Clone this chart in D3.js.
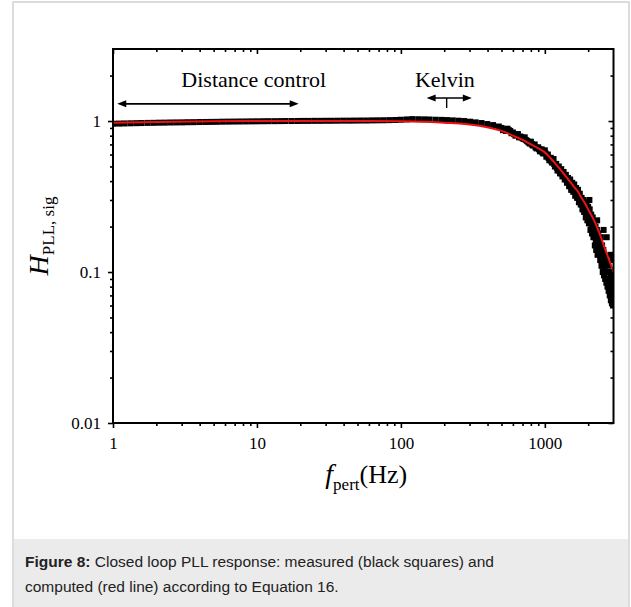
<!DOCTYPE html>
<html>
<head>
<meta charset="utf-8">
<script src="https://cdn.jsdelivr.net/npm/d3@7"></script>
<style>
  html, body { margin: 0; padding: 0; background: #fff; }
  svg { display: block; }
</style>
</head>
<body>
<svg id="fig" width="631" height="607"></svg>
<script>
// Measured closed-loop PLL response: perturbation frequency (Hz) and |H|
const measFreq = [
  1, 1.1, 1.2, 1.32, 1.45, 1.58, 1.74, 1.91, 2.09, 2.29,
  2.51, 2.75, 3.02, 3.31, 3.63, 3.98, 4.37, 4.79, 5.25, 5.75,
  6.31, 6.92, 7.59, 8.32, 9.12, 10, 11, 12, 13.2, 14.5,
  15.8, 17.4, 19.1, 20.9, 22.9, 25.1, 27.5, 30.2, 33.1, 36.3,
  39.8, 43.7, 47.9, 52.5, 57.5, 63.1, 69.2, 75.9, 83.2, 91.2,
  100, 110, 120, 132, 145, 158, 174, 191, 209, 229,
  251, 275, 302, 331, 363, 398, 437, 479,
  500, 525, 550, 575, 600, 625, 650, 675, 700, 725,
  750, 775, 800, 825, 850, 875, 900, 925, 950, 975,
  1000, 1025, 1050, 1075, 1100, 1125, 1150, 1175, 1200, 1225,
  1250, 1275, 1300, 1325, 1350, 1375, 1400, 1425, 1450, 1475,
  1500, 1525, 1550, 1575, 1600, 1625, 1650, 1675, 1700, 1725,
  1750, 1775, 1800, 1825, 1850, 1875, 1900, 1925, 1950, 1975,
  2000, 2025, 2040, 2050, 2075, 2100, 2125, 2150, 2175, 2200,
  2225, 2250, 2275, 2300, 2310, 2325, 2350, 2375, 2400, 2425,
  2450, 2475, 2500, 2525, 2550, 2560, 2575, 2600, 2625, 2650,
  2675, 2690, 2700, 2725, 2750, 2775, 2800, 2825, 2850, 2875,
  2880, 2900, 2925, 2950, 2960, 2975, 2990,
  512, 537, 562, 587, 612, 637, 662, 687, 712, 737,
  762, 787, 812, 837, 862, 887, 912, 937, 962, 987,
  1012, 1037, 1062, 1087, 1112, 1137, 1162, 1187, 1212, 1237,
  1262, 1287, 1312, 1337, 1362, 1387, 1412, 1437, 1462, 1487,
  1512, 1537, 1562, 1587, 1612, 1637, 1662, 1687, 1712, 1737,
  1762, 1787, 1812, 1837, 1862, 1887, 1912, 1937, 1962, 1987,
  2012, 2037, 2062, 2087, 2112, 2137, 2162, 2187, 2212, 2237,
  2262, 2287, 2312, 2337, 2362, 2387, 2412, 2437, 2462, 2487,
  2512, 2537, 2562, 2587, 2612, 2637, 2662, 2687, 2712, 2737,
  2762, 2787, 2812, 2837, 2862, 2887, 2912, 2937, 2962, 2987
];
const measGain = [
  0.960, 0.962, 0.964, 0.966, 0.968, 0.970, 0.972, 0.973, 0.975, 0.976,
  0.978, 0.979, 0.980, 0.982, 0.983, 0.985, 0.986, 0.987, 0.988, 0.990,
  0.991, 0.992, 0.993, 0.994, 0.995, 0.996, 0.997, 0.998, 0.998, 0.999,
  1.000, 1.000, 1.001, 1.002, 1.002, 1.003, 1.003, 1.004, 1.004, 1.005,
  1.006, 1.006, 1.007, 1.008, 1.008, 1.010, 1.011, 1.012, 1.014, 1.016,
  1.020, 1.025, 1.030, 1.028, 1.026, 1.024, 1.020, 1.018, 1.015, 1.010,
  1.005, 1.000, 0.990, 0.980, 0.970, 0.955, 0.940, 0.920,
  0.90, 0.88, 0.89, 0.86, 0.84, 0.80, 0.82, 0.79, 0.77, 0.78,
  0.74, 0.72, 0.73, 0.69, 0.70, 0.66, 0.67, 0.63, 0.65, 0.61,
  0.64, 0.58, 0.60, 0.55, 0.57, 0.53, 0.56, 0.50, 0.52, 0.47,
  0.50, 0.45, 0.48, 0.43, 0.46, 0.41, 0.44, 0.39, 0.42, 0.37,
  0.41, 0.35, 0.39, 0.34, 0.38, 0.32, 0.36, 0.31, 0.35, 0.29,
  0.33, 0.28, 0.31, 0.26, 0.30, 0.25, 0.29, 0.23, 0.28, 0.22,
  0.27, 0.21, 0.30, 0.26, 0.19, 0.24, 0.18, 0.23, 0.17, 0.21,
  0.15, 0.20, 0.14, 0.19, 0.22, 0.13, 0.18, 0.15, 0.16, 0.12,
  0.17, 0.11, 0.15, 0.10, 0.14, 0.19, 0.095, 0.13, 0.09, 0.12,
  0.085, 0.17, 0.115, 0.08, 0.11, 0.075, 0.10, 0.07, 0.095, 0.065,
  0.13, 0.09, 0.062, 0.085, 0.12, 0.06, 0.08,
  0.87, 0.86, 0.87, 0.83, 0.82, 0.81, 0.78, 0.78, 0.76, 0.75,
  0.73, 0.71, 0.70, 0.69, 0.67, 0.66, 0.65, 0.64, 0.62, 0.62,
  0.61, 0.59, 0.57, 0.57, 0.54, 0.55, 0.52, 0.51, 0.49, 0.49,
  0.47, 0.46, 0.45, 0.45, 0.43, 0.42, 0.41, 0.41, 0.39, 0.38,
  0.38, 0.36, 0.36, 0.36, 0.34, 0.34, 0.33, 0.33, 0.31, 0.31,
  0.30, 0.30, 0.28, 0.28, 0.27, 0.27, 0.25, 0.25, 0.24, 0.24,
  0.23, 0.22, 0.22, 0.21, 0.20, 0.20, 0.19, 0.18, 0.18, 0.17,
  0.16, 0.16, 0.15, 0.15, 0.14, 0.14, 0.13, 0.14, 0.12, 0.13,
  0.12, 0.11, 0.12, 0.10, 0.11, 0.10, 0.10, 0.09, 0.10, 0.09,
  0.09, 0.085, 0.08, 0.085, 0.075, 0.08, 0.07, 0.075, 0.068, 0.07
];

// Computed response from the loop model
const fitFreq = [1, 2, 5, 10, 20, 50, 100, 200, 350, 500, 600, 700, 800, 900, 1000,
  1100, 1200, 1300, 1400, 1500, 1600, 1700, 1800, 1900, 2000, 2200, 2400, 2600, 2800, 3000];
const fitGain = [0.975, 0.985, 0.995, 1.0, 1.0, 1.0, 0.995, 0.975, 0.93, 0.86, 0.80, 0.75, 0.70, 0.66, 0.62,
  0.565, 0.515, 0.47, 0.43, 0.395, 0.365, 0.34, 0.31, 0.285, 0.26, 0.22, 0.18, 0.145, 0.12, 0.10];

// Axis ticks
const xTicks = [1, 10, 100, 1000];
const xTickLabels = ["1", "10", "100", "1000"];
const xMinor = [2, 3, 4, 5, 6, 7, 8, 9, 20, 30, 40, 50, 60, 70, 80, 90,
  200, 300, 400, 500, 600, 700, 800, 900, 2000];
const yTicks = [0.01, 0.1, 1];
const yTickLabels = ["0.01", "0.1", "1"];
const yMinor = [0.02, 0.03, 0.04, 0.05, 0.06, 0.07, 0.08, 0.09,
  0.2, 0.3, 0.4, 0.5, 0.6, 0.7, 0.8, 0.9, 2];

// Annotations (in data units)
const annoText = ["Distance control", "Kelvin"];
const annoTextF = [9.5, 202];
const annoTextH = 1.68;
const rangeFrom = [1.07, 151];
const rangeTo = [19.5, 311];
const rangeH = [1.3, 1.42];
const kelvinMarkF = 208;
const kelvinMarkH = 1.22;

const captionBold = "Figure 8:";
const captionLine1 = " Closed loop PLL response: measured (black squares) and";
const captionLine2 = "computed (red line) according to Equation 16.";

const svg = d3.select("#fig");
const W = 631, H = 607;
const serif = "'Liberation Serif', 'Times New Roman', Times, serif";
const sans = "'Liberation Sans', Arial, Helvetica, sans-serif";

// page frame and caption band
svg.append("rect").attr("x", 0).attr("y", 0).attr("width", W).attr("height", H).attr("fill", "#fff");
svg.append("rect").attr("x", 14).attr("y", 539).attr("width", W - 16).attr("height", H - 539).attr("fill", "#ebebeb");
svg.append("path")
  .attr("d", `M13,${H + 5} V2 H629 V${H + 5}`)
  .attr("fill", "none").attr("stroke", "#dcdcdc").attr("stroke-width", 2);

const x = d3.scaleLog().domain([1, 3000]).range([113, 613.5]);
const y = d3.scaleLog().domain([0.01, 3]).range([423, 49]);
const [x0, x1] = x.range();
const [y0, y1] = y.range();

svg.append("defs").append("clipPath").attr("id", "plotclip")
  .append("rect").attr("x", x0).attr("y", y1).attr("width", x1 - x0).attr("height", y0 - y1);

// measured squares
const sq = 6;
const meas = measFreq.map((f, i) => ({ f, h: measGain[i] }));
svg.append("g").attr("clip-path", "url(#plotclip)")
  .selectAll("rect").data(meas).join("rect")
  .attr("x", d => x(d.f) - sq / 2)
  .attr("y", d => y(d.h) - sq / 2)
  .attr("width", sq).attr("height", sq)
  .attr("fill", "#000");

// computed curve
const fit = fitFreq.map((f, i) => ({ f, h: fitGain[i] }));
svg.append("g").attr("clip-path", "url(#plotclip)")
  .append("path").datum(fit)
  .attr("d", d3.line().x(d => x(d.f)).y(d => y(d.h)).curve(d3.curveMonotoneX))
  .attr("fill", "none").attr("stroke", "#ee1111").attr("stroke-width", 2);

// axes: outward ticks on bottom/left, inward on top/right
function styleAxis(g) {
  g.select(".domain").remove();
  g.selectAll(".tick line").attr("stroke", "#000").attr("stroke-width", 1.6);
  g.selectAll(".tick text").attr("fill", "#000").style("font-family", serif).style("font-size", "17px");
}
const fmtX = d => xTickLabels[xTicks.indexOf(d)];
const fmtY = d => yTickLabels[yTicks.indexOf(d)];

svg.append("g").attr("transform", `translate(0,${y0})`)
  .call(d3.axisBottom(x).tickValues(xTicks).tickFormat(fmtX).tickSize(5).tickPadding(9)).call(styleAxis);
svg.append("g").attr("transform", `translate(0,${y0})`)
  .call(d3.axisBottom(x).tickValues(xMinor).tickFormat("").tickSize(3)).call(styleAxis);
svg.append("g").attr("transform", `translate(0,${y1})`)
  .call(d3.axisTop(x).tickValues(xTicks).tickFormat("").tickSizeInner(-5).tickSizeOuter(0)).call(styleAxis);
svg.append("g").attr("transform", `translate(0,${y1})`)
  .call(d3.axisTop(x).tickValues(xMinor).tickFormat("").tickSizeInner(-3).tickSizeOuter(0)).call(styleAxis);

svg.append("g").attr("transform", `translate(${x0},0)`)
  .call(d3.axisLeft(y).tickValues(yTicks).tickFormat(fmtY).tickSize(5).tickPadding(7)).call(styleAxis);
svg.append("g").attr("transform", `translate(${x0},0)`)
  .call(d3.axisLeft(y).tickValues(yMinor).tickFormat("").tickSize(3)).call(styleAxis);
svg.append("g").attr("transform", `translate(${x1},0)`)
  .call(d3.axisRight(y).tickValues(yTicks).tickFormat("").tickSizeInner(-5).tickSizeOuter(0)).call(styleAxis);
svg.append("g").attr("transform", `translate(${x1},0)`)
  .call(d3.axisRight(y).tickValues(yMinor).tickFormat("").tickSizeInner(-3).tickSizeOuter(0)).call(styleAxis);

// plot frame
svg.append("rect").attr("x", x0).attr("y", y1).attr("width", x1 - x0).attr("height", y0 - y1)
  .attr("fill", "none").attr("stroke", "#000").attr("stroke-width", 2);

// axis titles
const yt = svg.append("text")
  .attr("transform", `translate(48,${(y0 + y1) / 2}) rotate(-90)`)
  .attr("text-anchor", "middle").attr("fill", "#000").style("font-family", serif);
yt.append("tspan").text("H").style("font-style", "italic").style("font-size", "28px");
yt.append("tspan").text("PLL, sig").style("font-size", "17px").attr("dy", 6);

const xt = svg.append("text")
  .attr("x", (x0 + x1) / 2 + 3).attr("y", 483)
  .attr("text-anchor", "middle").attr("fill", "#000").style("font-family", serif);
xt.append("tspan").text("f").style("font-style", "italic").style("font-size", "28px");
xt.append("tspan").text("pert").style("font-size", "17px").attr("dy", 7);
xt.append("tspan").text("(Hz)").style("font-size", "26px").attr("dy", -7);

// annotations
annoText.forEach((t, i) => {
  svg.append("text").attr("x", x(annoTextF[i])).attr("y", y(annoTextH))
    .attr("text-anchor", "middle").attr("fill", "#000")
    .style("font-family", serif).style("font-size", "22px").text(t);
});

function arrowHead(xTip, yy, dir) {
  const L = 9, Hw = 3.5;
  return `M${xTip},${yy} L${xTip - dir * L},${yy - Hw} L${xTip - dir * L},${yy + Hw} Z`;
}
rangeFrom.forEach((f, i) => {
  const xa = x(f), xb = x(rangeTo[i]), yy = y(rangeH[i]);
  svg.append("line").attr("x1", xa + 4).attr("x2", xb - 4).attr("y1", yy).attr("y2", yy)
    .attr("stroke", "#000").attr("stroke-width", 1.6);
  svg.append("path").attr("d", arrowHead(xa, yy, -1)).attr("fill", "#000");
  svg.append("path").attr("d", arrowHead(xb, yy, 1)).attr("fill", "#000");
});
svg.append("line")
  .attr("x1", x(kelvinMarkF)).attr("x2", x(kelvinMarkF))
  .attr("y1", y(rangeH[1])).attr("y2", y(kelvinMarkH))
  .attr("stroke", "#000").attr("stroke-width", 1.4);

// caption
const cap = svg.append("text").attr("x", 25).attr("y", 567)
  .attr("fill", "#222").style("font-family", sans).style("font-size", "15.5px");
cap.append("tspan").text(captionBold).style("font-weight", "bold");
cap.append("tspan").text(captionLine1);
svg.append("text").attr("x", 25).attr("y", 592)
  .attr("fill", "#222").style("font-family", sans).style("font-size", "15.5px")
  .text(captionLine2);
</script>
</body>
</html>
